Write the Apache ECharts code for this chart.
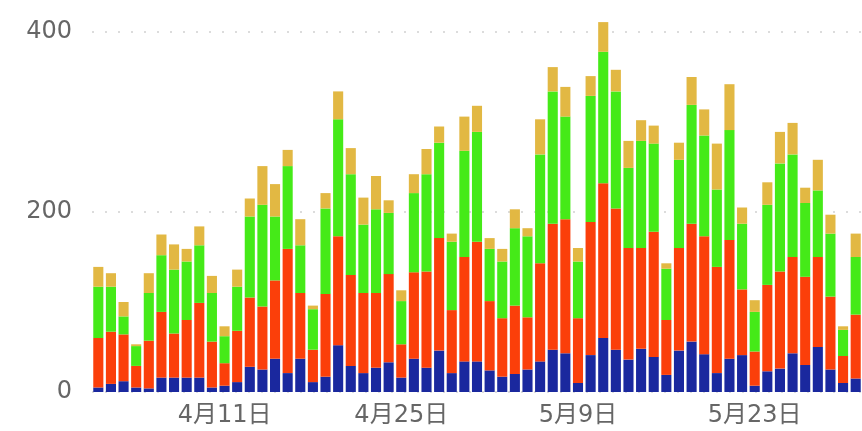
<!DOCTYPE html>
<html>
<head>
<meta charset="utf-8">
<script src="https://cdn.jsdelivr.net/npm/echarts@6/dist/echarts.min.js"></script>
<style>
  html, body { margin: 0; padding: 0; background: #fff; }
  #main { width: 862px; height: 431px; }
</style>
</head>
<body>
<div id="main"></div>
<script>
// 4月1日 ~ 5月31日
var dates = [
  "4月1日", "4月2日", "4月3日", "4月4日", "4月5日", "4月6日", "4月7日", "4月8日", "4月9日", "4月10日",
  "4月11日", "4月12日", "4月13日", "4月14日", "4月15日", "4月16日", "4月17日", "4月18日", "4月19日", "4月20日",
  "4月21日", "4月22日", "4月23日", "4月24日", "4月25日", "4月26日", "4月27日", "4月28日", "4月29日", "4月30日",
  "5月1日", "5月2日", "5月3日", "5月4日", "5月5日", "5月6日", "5月7日", "5月8日", "5月9日", "5月10日",
  "5月11日", "5月12日", "5月13日", "5月14日", "5月15日", "5月16日", "5月17日", "5月18日", "5月19日", "5月20日",
  "5月21日", "5月22日", "5月23日", "5月24日", "5月25日", "5月26日", "5月27日", "5月28日", "5月29日", "5月30日",
  "5月31日"
];

var blueData = [5, 9, 12, 5, 4, 16, 16, 16, 16, 5, 7, 11, 28, 25, 37, 21, 37, 11, 17, 52,
  29, 21, 27, 33, 16, 37, 27, 46, 21, 34, 34, 24, 17, 20, 25, 34, 47, 43, 10, 41,
  60, 47, 36, 48, 39, 19, 46, 56, 42, 21, 37, 41, 7, 23, 26, 43, 30, 50, 25, 10, 15];

var redData = [55, 58, 52, 24, 53, 73, 49, 64, 83, 51, 25, 57, 77, 70, 87, 138, 73, 36, 92, 121,
  101, 89, 83, 98, 37, 96, 107, 125, 70, 116, 133, 77, 65, 76, 58, 109, 140, 149, 72, 148,
  172, 157, 124, 112, 139, 61, 114, 131, 131, 118, 132, 73, 38, 96, 108, 107, 98, 100, 81, 30, 71];

var greenData = [57, 50, 20, 22, 53, 63, 71, 65, 64, 54, 30, 49, 90, 113, 71, 92, 53, 45, 95, 130,
  112, 76, 93, 68, 48, 88, 108, 106, 76, 118, 122, 58, 63, 86, 90, 121, 147, 114, 63, 140,
  146, 130, 89, 119, 98, 57, 98, 132, 112, 86, 122, 73, 44, 89, 120, 114, 82, 74, 70, 29, 64];

var yellowData = [22, 15, 16, 2, 22, 23, 28, 14, 21, 19, 11, 19, 20, 43, 36, 18, 29, 4, 17, 31,
  29, 30, 37, 14, 12, 21, 28, 18, 9, 38, 29, 12, 14, 21, 9, 39, 27, 33, 15, 22,
  33, 24, 30, 23, 20, 6, 19, 31, 29, 51, 51, 18, 13, 25, 35, 35, 17, 34, 21, 4, 26];

var yTicks = [0, 200, 400];

var labelFont = "'DejaVu Sans', 'Noto Sans CJK SC', sans-serif";

var chartDom = document.getElementById("main");
var myChart = echarts.init(chartDom);
var option;

function makeSeries(name, data, color) {
  return {
    name: name,
    type: "bar",
    stack: "total",
    clip: false,
    barCategoryGap: "20%",
    itemStyle: { color: color },
    data: data,
  };
}

option = {
  animation: false,
  backgroundColor: "#fff",
  grid: {
    left: 92,
    right: -1,
    top: 32,
    bottom: 39,
  },
  xAxis: {
    type: "category",
    data: dates,
    axisLine: { show: false },
    axisTick: { show: false },
    axisLabel: {
      // 每两周显示一个日期
      interval: function (idx) {
        return idx >= 10 && (idx - 10) % 14 === 0;
      },
      color: "#666",
      fontSize: 24,
      fontFamily: labelFont,
      margin: 12,
    },
  },
  yAxis: {
    type: "value",
    min: yTicks[0],
    max: yTicks[yTicks.length - 1],
    interval: yTicks[1] - yTicks[0],
    axisLine: { show: false },
    axisTick: { show: false },
    axisLabel: {
      color: "#666",
      fontSize: 24,
      fontFamily: labelFont,
      margin: 20,
    },
    splitLine: {
      show: true,
      lineStyle: {
        color: "#dcdcdc",
        width: 2,
        type: [2, 11],
      },
    },
  },
  series: [
    makeSeries("blue", blueData, "#1a289e"),
    makeSeries("red", redData, "#fb3f0a"),
    makeSeries("green", greenData, "#45ea18"),
    makeSeries("yellow", yellowData, "#e2b843"),
  ],
};

option && myChart.setOption(option);
</script>
</body>
</html>
